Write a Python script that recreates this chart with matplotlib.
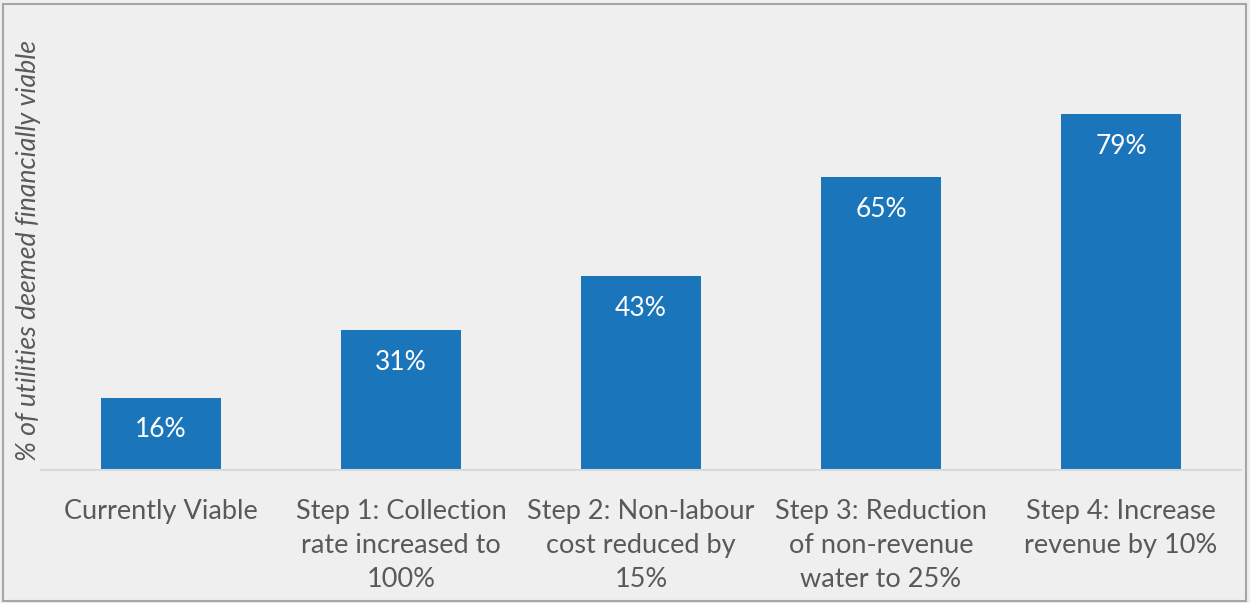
import matplotlib.pyplot as plt
from matplotlib.patches import Rectangle

plt.rcParams['font.family'] = ['Lato', 'DejaVu Sans']

categories = [
    "Currently Viable",
    "Step 1: Collection\nrate increased to\n100%",
    "Step 2: Non-labour\ncost reduced by\n15%",
    "Step 3: Reduction\nof non-revenue\nwater to 25%",
    "Step 4: Increase\nrevenue by 10%",
]
viable_pct = [16, 31, 43, 65, 79]

bg = "#efefef"
bar_color = "#1b75bb"
text_color = "#595959"

fig = plt.figure(figsize=(12.5, 6.03), dpi=100, facecolor=bg)
ax = fig.add_axes([0.0328, 0.2206, 0.96, 0.7463])
ax.set_facecolor(bg)

x = range(len(categories))
bars = ax.bar(x, viable_pct, width=0.5, color=bar_color, zorder=2)

for b, v in zip(bars, viable_pct):
    ax.annotate(f"{v}%", (b.get_x() + b.get_width() / 2, v),
                xytext=(0, -23), textcoords="offset points",
                ha="center", va="center", color="white", fontsize=19)

ax.set_xlim(-0.5, len(categories) - 0.5)
ax.set_ylim(0, 100)
ax.set_xticks(list(x))
ax.set_xticklabels(categories, fontsize=19.5, color=text_color, linespacing=1.45)
ax.tick_params(axis="x", length=0, pad=21)
ax.set_yticks([])

for side in ["top", "right", "left"]:
    ax.spines[side].set_visible(False)
ax.spines["bottom"].set_color("#d9d9d9")
ax.spines["bottom"].set_linewidth(1.5)

fig.text(0.0232, 0.585, "% of utilities deemed financially viable", rotation=90,
         ha="center", va="center", fontsize=19.3, style="italic", color=text_color)

# thin frame around the whole figure
fig.patches.append(Rectangle((0.002, 0.004), 0.995, 0.99, transform=fig.transFigure,
                             fill=False, edgecolor="#a6a6a6", linewidth=1.5))

fig.savefig("out.png", dpi=100, facecolor=bg)
